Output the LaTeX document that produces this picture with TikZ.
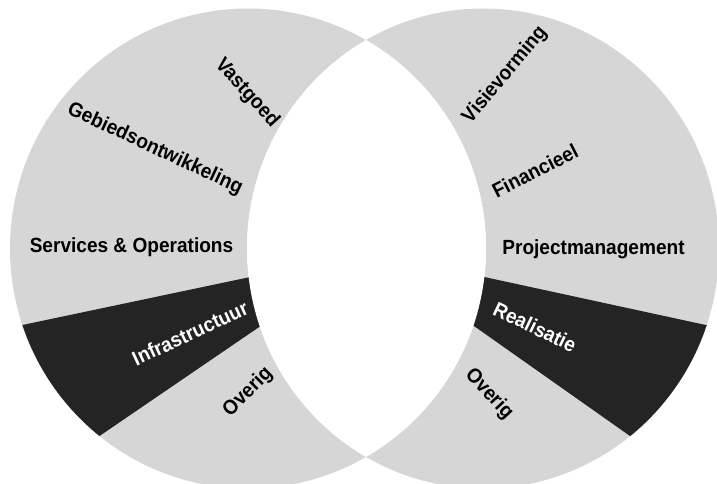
\documentclass[tikz,border=0pt]{standalone}
\usepackage{fontspec}
\setmainfont{Liberation Sans}
\usepackage{graphicx}
\definecolor{ringgray}{gray}{0.84}
\definecolor{darksec}{gray}{0.14}
\newcommand\sqz[1]{\scalebox{0.93}[1]{#1}}
\begin{document}
\begin{tikzpicture}[x=1pt,y=-1pt,
  lbl/.style={font=\fontsize{20.5}{24}\selectfont\bfseries, inner sep=0pt, text=black},
  wlbl/.style={lbl, text=white}]
\useasboundingbox (0,0) rectangle (717,484);
% ring: symmetric difference of two ellipses
\fill[ringgray, even odd rule]
  (248,248.5) ellipse [x radius=238, y radius=240]
  (483,248.5) ellipse [x radius=236, y radius=240];
% dark sectors
\coordinate (C) at (369,252);
\begin{scope}
  \clip (248,248.5) ellipse [x radius=238, y radius=240];
  \fill[darksec] (C) -- (-120,355) -- (-44,534) -- cycle;
\end{scope}
\begin{scope}
  \clip (483,248.5) ellipse [x radius=236, y radius=240];
  \fill[darksec] (C) -- (858,358) -- (777.5,540) -- cycle;
\end{scope}
% white lens
\begin{scope}
  \clip (248,248.5) ellipse [x radius=238, y radius=240];
  \fill[white] (483,248.5) ellipse [x radius=236, y radius=240];
\end{scope}
% labels
\node[lbl, rotate=-48] (vastgoed) at (247,93) {\sqz{Vastgoed}};
\node[lbl, rotate=-25] (gebied) at (155,149) {\sqz{Gebiedsontwikkeling}};
\node[lbl] (services) at (131.5,247.5) {\sqz{Services \& Operations}};
\node[wlbl, rotate=25] (infra) at (190,333) {\sqz{Infrastructuur}};
\node[lbl, rotate=45] (overigL) at (248,392) {\sqz{Overig}};
\node[lbl, rotate=50] (visie) at (505,75) {\sqz{Visievorming}};
\node[lbl, rotate=27] (fin) at (535,171) {\sqz{Financieel}};
\node[lbl] (pm) at (593.5,249.6) {\sqz{Projectmanagement}};
\node[wlbl, rotate=-25.5] (real) at (535,327) {\sqz{Realisatie}};
\node[lbl, rotate=-47] (overigR) at (489,394) {\sqz{Overig}};
\end{tikzpicture}
\end{document}
